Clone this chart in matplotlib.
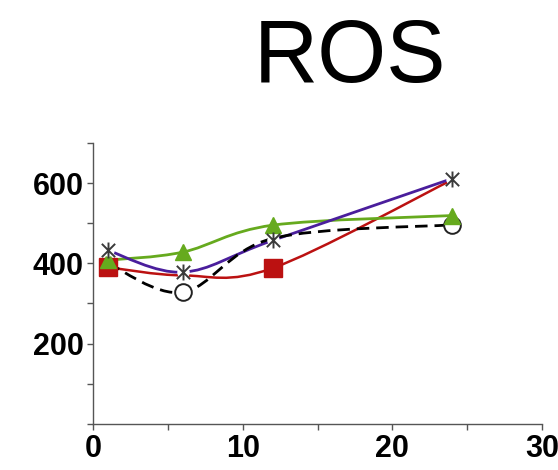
import numpy as np
import matplotlib
matplotlib.use("Agg")
import matplotlib.pyplot as plt
from matplotlib.path import Path
from matplotlib.patches import PathPatch

plt.rcParams["font.family"] = ["Liberation Sans", "DejaVu Sans"]

# time points (h) and ROS values per treatment
hours = [1, 6, 12, 24]
ros_red = [390, 370, 388, 608]
ros_green = [408, 428, 495, 519]
ros_black = [400, 328, 462, 496]
ros_purple = [432, 378, 457, 611]

# which points carry a visible marker
red_marks = [0, 2]
black_marks = [1, 3]

x_ticks = [0, 5, 10, 15, 20, 25, 30]
x_labels = ["0", "", "10", "", "20", "", "30"]
y_ticks = [0, 100, 200, 300, 400, 500, 600, 700]
y_labels = ["", "", "200", "", "400", "", "600", ""]

# asterisk-like marker: an X with a vertical bar
star = Path([(-1, -1), (1, 1), (-1, 1), (1, -1), (0, -1.2), (0, 1.2)],
            [Path.MOVETO, Path.LINETO] * 3)


def smooth_curve(ax, xs, ys, **kw):
    """Catmull-Rom style curve through the points, drawn as cubic Beziers."""
    pts = np.column_stack([xs, ys]).astype(float)
    ext = np.vstack([pts[0], pts, pts[-1]])
    verts = [tuple(pts[0])]
    codes = [Path.MOVETO]
    for i in range(1, len(ext) - 2):
        p0, p1, p2, p3 = ext[i - 1], ext[i], ext[i + 1], ext[i + 2]
        c1 = p1 + (p2 - p0) / 6.0
        c2 = p2 - (p3 - p1) / 6.0
        verts += [tuple(c1), tuple(c2), tuple(p2)]
        codes += [Path.CURVE4] * 3
    patch = PathPatch(Path(verts, codes), facecolor="none", **kw)
    ax.add_patch(patch)


fig = plt.figure(figsize=(5.58, 4.70), dpi=100)
ax = fig.add_axes([0.167, 0.098, 0.804, 0.598])

red = "#bb1111"
green = "#66aa1e"
purple = "#4a1e9c"

smooth_curve(ax, hours, ros_red, edgecolor=red, lw=1.8, zorder=2)
smooth_curve(ax, hours, ros_green, edgecolor=green, lw=2.0, zorder=2)
smooth_curve(ax, hours, ros_purple, edgecolor=purple, lw=2.0, zorder=2)
smooth_curve(ax, hours, ros_black, edgecolor="black", lw=2.0,
             linestyle=(0, (4.5, 2.5)), zorder=3)

ax.plot(hours, ros_red, ls="none", marker="s", ms=12.5, color=red,
        markevery=red_marks, zorder=4)
ax.plot(hours, ros_black, ls="none", marker="o", ms=12, mfc="white",
        mec="#222222", mew=1.4, markevery=black_marks, zorder=5)
ax.plot(hours, ros_green, ls="none", marker="^", ms=11, color=green, zorder=6)
ax.plot(hours, ros_purple, ls="none", marker="o", ms=9, mfc="white",
        mec="none", zorder=7)
ax.plot(hours, ros_purple, ls="none", marker=star, ms=11.5,
        color="#3a3a3a", mew=1.4, zorder=8)

ax.set_xlim(0, 30)
ax.set_ylim(0, 700)
ax.set_xticks(x_ticks)
ax.set_xticklabels(x_labels)
ax.set_yticks(y_ticks)
ax.set_yticklabels(y_labels)

for side in ("top", "right"):
    ax.spines[side].set_visible(False)
for side in ("left", "bottom"):
    ax.spines[side].set_color("#555555")
    ax.spines[side].set_linewidth(1.0)
ax.tick_params(colors="#555555", length=4, width=1.0, direction="out",
               labelcolor="black", labelsize=22, pad=3)
for lbl in ax.get_xticklabels() + ax.get_yticklabels():
    lbl.set_fontweight("bold")

fig.text(0.627, 0.875, "ROS", ha="center", va="center", fontsize=64)

fig.savefig("out.png", dpi=100)
